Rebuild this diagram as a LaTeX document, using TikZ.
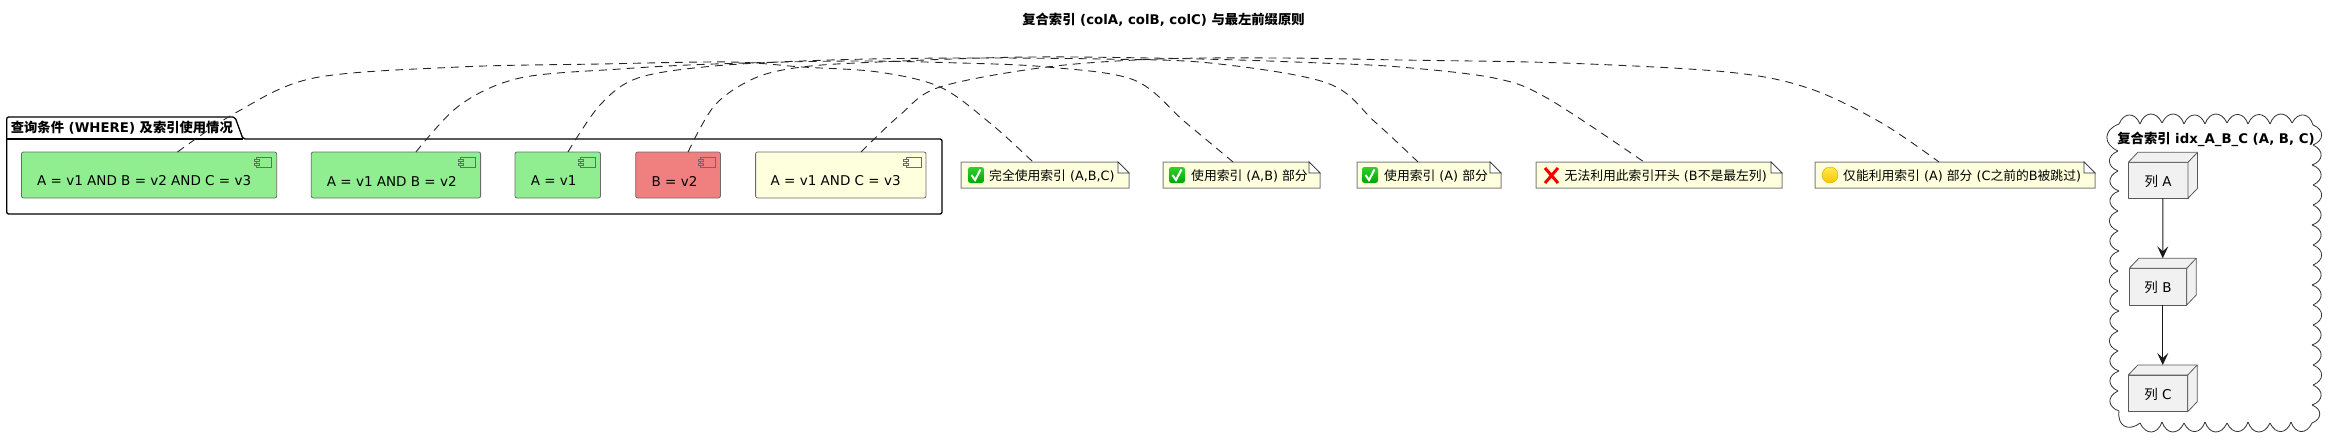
\documentclass[tikz,border=0pt]{standalone}
\usepackage{fontspec}
\usetikzlibrary{calc,arrows.meta}
\setmainfont{DejaVu Sans}
\newfontfamily\zhf{Noto Sans CJK SC}
\newcommand{\zh}[1]{{\zhf #1}}
\definecolor{notefill}{HTML}{FEFFDD}
\definecolor{lgreen}{HTML}{90EE90}
\definecolor{lcoral}{HTML}{F08080}
\definecolor{nodefill}{HTML}{F1F1F1}
\definecolor{gtop}{HTML}{30D030}
\definecolor{gbot}{HTML}{00A800}
\definecolor{ytop}{HTML}{FFEA50}
\definecolor{ybot}{HTML}{FFC400}
\tikzset{
 compbox/.style={draw=black!58,line width=0.8pt,rounded corners=2pt,inner sep=0,outer sep=0,minimum height=46pt},
 compicon/.style={draw=black!58,line width=0.7pt},
 comptext/.style={inner sep=0,anchor=west,font=\fontsize{13.5}{16}\selectfont},
 titletext/.style={inner sep=0,font=\fontsize{13.3}{16}\selectfont\bfseries},
 pkgline/.style={draw=black,line width=1.3pt,rounded corners=2pt},
 noteedge/.style={draw=black!50,line width=1pt,fill=notefill},
 notefold/.style={draw=black!80,line width=0.7pt,fill=white},
 notetext/.style={inner sep=0,anchor=west,font=\fontsize{12.8}{15}\selectfont},
 notebound/.style={inner sep=0,outer sep=0,minimum height=26pt},
 notelink/.style={draw=black!85,line width=0.9pt,dash pattern=on 8pt off 6pt},
 colface/.style={draw=black!65,line width=0.8pt,fill=nodefill,line join=round},
 colbound/.style={inner sep=0,outer sep=0},
 coltext/.style={inner sep=0,font=\fontsize{13.5}{16}\selectfont},
 colarrow/.style={draw=black!90,line width=1pt,-{Stealth[length=12pt,width=11pt,inset=5pt]}},
 cloudline/.style={draw=black!80,line width=0.8pt},
}
\newcommand{\complace}[7]{%
 \node[compbox,fill=#4,minimum width={(#3-#2)*1pt}] (#1) at ({(#2+#3)/2},175) {};
 \draw[compicon] ($(#1.north east)+(-20,5.3)$) rectangle ($(#1.north east)+(-5,15.3)$);
 \draw[compicon,fill=#4] ($(#1.north east)+(-22.5,7.3)$) rectangle ($(#1.north east)+(-17.5,9.6)$);
 \draw[compicon,fill=#4] ($(#1.north east)+(-22.5,11)$) rectangle ($(#1.north east)+(-17.5,13.3)$);
 \node[comptext] (#1t) at (#6,181) {#7};
}
\newcommand{\noteplace}[5]{%
 \path[noteedge] (#2,162) -- ({#3-11},162) -- (#3,173) -- (#3,188) -- (#2,188) -- cycle;
 \draw[notefold] ({#3-11},162) -- ({#3-11},173) -- (#3,173) -- cycle;
 \node[notebound,minimum width={(#3-#2)*1pt}] (#1) at ({(#2+#3)/2},175) {};
 \node[notetext] (#1t) at (#4,175.5) {#5};
}
\newcommand{\checkicon}[1]{%
 \shade[top color=gtop,bottom color=gbot,rounded corners=2.5pt] (#1,167) rectangle ({#1+16},183);
 \draw[white,line width=2pt,line join=miter] ({#1+3.5},175) -- ({#1+7},180) -- ({#1+12.5},169.5);
}
\newcommand{\colplace}[6]{%
 \node[colbound,minimum width={(#3+9.5-#2)*1pt},minimum height={(#5-#4+10)*1pt}] (#1) at ({(#2+#3+9.5)/2},{(#4+#5-10)/2}) {};
 \draw[colface] (#2,#4) rectangle (#3,#5);
 \draw[colface] (#2,#4) -- ({#2+9.5},{#4-10}) -- ({#3+9.5},{#4-10}) -- ({#3+9.5},{#5-10}) -- (#3,#5) -- (#3,#4) -- cycle;
 \draw[colface] (#3,#4) -- ({#3+9.5},{#4-10});
 \node[coltext] (#1t) at (2158,{(#4+#5)/2+1}) {#6};
}
\begin{document}
\begin{tikzpicture}[x=1pt,y=-1pt]
\useasboundingbox (0,0) rectangle (2340,444);
% title
\node[titletext] (title) at (1163.5,20) {\zh{复合索引} (colA, colB, colC) \zh{与最左前缀原则}};
% package
\draw[pkgline] (6.7,139) -- (6.7,117) -- (235,117) -- (243,139) -- (942,139) -- (942,214) -- (6.7,214) -- cycle;
\draw[draw=black,line width=1.1pt] (6.7,139) -- (243,139);
\node[titletext,anchor=west] (pkgt) at (10.7,128) {\zh{查询条件} (WHERE) \zh{及索引使用情况}};
% components
\complace{ca}{21.5}{276.7}{lgreen}{}{37}{A = v1 AND B = v2 AND C = v3}
\complace{cb}{311.3}{480.6}{lgreen}{}{326.7}{A = v1 AND B = v2}
\complace{cc}{515}{600.5}{lgreen}{}{530.6}{A = v1}
\complace{cd}{635.7}{720.4}{lcoral}{}{651.5}{B = v2}
\complace{ce}{755.6}{926}{notefill}{}{770.5}{A = v1 AND C = v3}
% notes
\noteplace{na}{961}{1129}{989}{\zh{完全使用索引} (A,B,C)}
\noteplace{nb}{1163}{1320}{1191}{\zh{使用索引} (A,B) \zh{部分}}
\noteplace{nc}{1357}{1501}{1384}{\zh{使用索引} (A) \zh{部分}}
\noteplace{nd}{1536}{1782}{1564.5}{\zh{无法利用此索引开头} (B\zh{不是最左列})}
\noteplace{ne}{1815}{2095}{1843}{\zh{仅能利用索引} (A) \zh{部分} (C\zh{之前的}B\zh{被跳过})}
\checkicon{968}
\checkicon{1169}
\checkicon{1362}
\draw[red!95!black,line width=3pt] (1545,168) -- (1558,183) (1558,168) -- (1545,183);
\shade[top color=ytop,bottom color=ybot,draw=ybot!85!black,line width=0.4pt] (1830,175) circle (8);
% connectors
\coordinate (cas) at ([xshift=28.4pt]ca.north);
\coordinate (cbs) at ([xshift=20pt]cb.north);
\coordinate (ccs) at ([xshift=10.2pt]cc.north);
\coordinate (cds) at ([xshift=10pt]cd.north);
\coordinate (ces) at ([xshift=20.2pt]ce.north);
\coordinate (nas) at ([xshift=-12pt]na.north);
\coordinate (nbs) at ([xshift=-8.5pt]nb.north);
\coordinate (ncs) at ([xshift=-11pt]nc.north);
\coordinate (nds) at ([xshift=-15pt]nd.north);
\coordinate (nes) at ([xshift=-16pt]ne.north);
\draw[notelink] plot[smooth,tension=0.55] coordinates {(cas) (237,112) (314,78) (459,67) (600,64) (730,62) (802,67) (878,72) (940,87) (990,123) (nas)};
\draw[notelink] plot[smooth,tension=0.55] coordinates {(cbs) (460,105) (520,78) (620,69) (714,64) (850,61) (960,63) (1047,67) (1134,80) (1185,122) (nbs)};
\draw[notelink] plot[smooth,tension=0.55] coordinates {(ccs) (600,105) (638,78) (714,66) (830,60) (960,58) (1100,59) (1210,63) (1327,83) (1375,122) (ncs)};
\draw[notelink] plot[smooth,tension=0.55] coordinates {(cds) (715,105) (755,78) (802,67) (878,62) (1030,57) (1200,59) (1320,63) (1400,67) (1494,78) (1547,98) (nds)};
\draw[notelink] plot[smooth,tension=0.55] coordinates {(ces) (900,115) (940,87) (1047,67) (1159,59) (1280,58) (1400,60) (1563,63) (1727,72) (1808,88) (1880,122) (nes)};
% cloud
\foreach \i/\xa/\ya/\xb/\yb in {
 1/2119/124/2140/124,2/2140/124/2162/123,3/2162/123/2184/124,4/2184/124/2205/124,5/2205/124/2227/123,6/2227/123/2248/124,7/2248/124/2270/124,8/2270/124/2292/123,9/2292/123/2313/125,
 10/2313/125/2313/145,11/2313/145/2312/165,12/2312/165/2313/185,13/2313/185/2313/205,14/2313/205/2312/225,15/2312/225/2313/245,16/2313/245/2313/265,17/2313/265/2312/285,18/2312/285/2313/305,19/2313/305/2313/325,20/2313/325/2312/345,21/2312/345/2313/365,22/2313/365/2313/385,23/2313/385/2312/405,24/2312/405/2312/423,
 25/2312/423/2291/422,26/2291/422/2270/423,27/2270/423/2248/422,28/2248/422/2227/423,29/2227/423/2205/422,30/2205/422/2184/423,31/2184/423/2162/422,32/2162/422/2140/423,33/2140/423/2119/411,
 34/2119/411/2118/391,35/2118/391/2119/371,36/2119/371/2118/351,37/2118/351/2118/331,38/2118/331/2119/311,39/2119/311/2118/291,40/2118/291/2118/271,41/2118/271/2119/251,42/2119/251/2118/231,43/2118/231/2118/211,44/2118/211/2119/191,45/2119/191/2118/171,46/2118/171/2118/151,47/2118/151/2119/124}{
 \coordinate (cl\i a) at (\xa,\ya);
 \coordinate (cl\i b) at (\xb,\yb);
 \draw[cloudline] (cl\i a) .. controls ($(cl\i a)!0.62!68:(cl\i b)$) and ($(cl\i b)!0.62!-68:(cl\i a)$) .. (cl\i b);
}
\node[titletext] (cloudt) at (2216,139) {\zh{复合索引} idx\_A\_B\_C (A, B, C)};
% columns
\colplace{cola}{2128.3}{2188}{162.3}{198.3}{\zh{列} A}
\colplace{colb}{2129.3}{2186.7}{268.3}{305}{\zh{列} B}
\colplace{colc}{2128.3}{2187.7}{375}{411.7}{\zh{列} C}
\draw[colarrow] (cola.south) -- (colb.north);
\draw[colarrow] (colb.south) -- (colc.north);
\end{tikzpicture}
\end{document}
